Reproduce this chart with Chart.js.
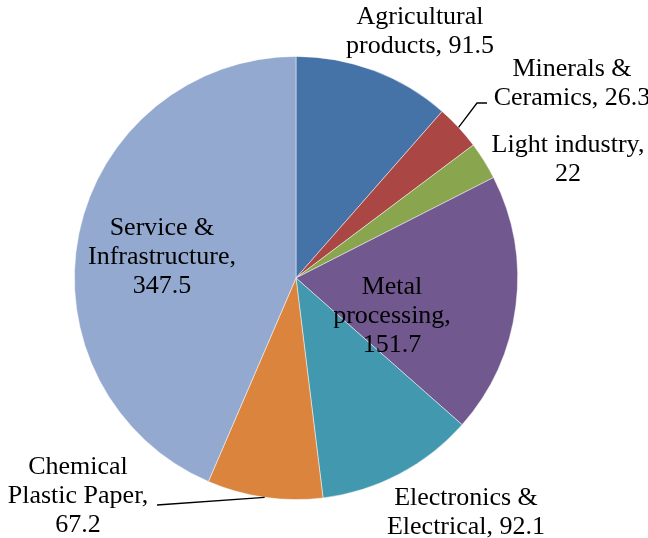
<!DOCTYPE html>
<html>
<head>
<meta charset="utf-8">
<script src="https://cdn.jsdelivr.net/npm/chart.js@4/dist/chart.umd.min.js"></script>
<style>
  html, body { margin: 0; padding: 0; background: #fff; }
  #wrap { width: 648px; height: 538px; }
</style>
</head>
<body>
<div id="wrap"><canvas id="pie" width="648" height="538"></canvas></div>
<script>
// sector data, clockwise from 12 o'clock
const categories = [
    ["Agricultural", "products"],
    ["Minerals &", "Ceramics"],
    ["Light industry"],
    ["Metal", "processing"],
    ["Electronics &", "Electrical"],
    ["Chemical", "Plastic Paper"],
    ["Service &", "Infrastructure"]
];
const values = [91.5, 26.3, 22, 151.7, 92.1, 67.2, 347.5];
const colors = ["#4572A7", "#AA4643", "#89A54E", "#71588F", "#4198AF", "#DB843D", "#93A9CF"];

// label placement relative to the pie center (px), and which ones get a leader line
const labelLines = [
    ["Agricultural", "products, 91.5"],
    ["Minerals &", "Ceramics, 26.3"],
    ["Light industry,", "22"],
    ["Metal", "processing,", "151.7"],
    ["Electronics &", "Electrical, 92.1"],
    ["Chemical", "Plastic Paper,", "67.2"],
    ["Service &", "Infrastructure,", "347.5"]
];
const labelPos = [
    {dx: 124, dy: -246},
    {dx: 276, dy: -194},
    {dx: 272, dy: -118},
    {dx: 96, dy: 38},
    {dx: 170, dy: 235},
    {dx: -218, dy: 218},
    {dx: -134, dy: -21}
];
const leader = [null, {bx: 181, by: -175, ex: 191}, null, null, null, {bx: -139, by: 227, ex: -139}, null];

const FONT = '26px "Liberation Serif", "Times New Roman", serif';
const LINE_H = 29;

const labelPlugin = {
    id: 'sliceLabels',
    afterDatasetsDraw(chart) {
        const ctx = chart.ctx;
        const arcs = chart.getDatasetMeta(0).data;
        ctx.save();
        arcs.forEach((arc, i) => {
            const p = arc.getProps(['x', 'y', 'startAngle', 'endAngle', 'outerRadius'], true);
            const mid = (p.startAngle + p.endAngle) / 2;
            // leader line from the slice edge
            const ld = leader[i];
            if (ld) {
                const sx = p.x + Math.cos(mid) * p.outerRadius;
                const sy = p.y + Math.sin(mid) * p.outerRadius;
                ctx.beginPath();
                ctx.strokeStyle = '#000';
                ctx.lineWidth = 1.3;
                ctx.moveTo(sx, sy);
                ctx.lineTo(p.x + ld.bx, p.y + ld.by);
                ctx.lineTo(p.x + ld.ex, p.y + ld.by);
                ctx.stroke();
            }
            const lines = labelLines[i];
            const pos = labelPos[i];
            ctx.font = FONT;
            ctx.fillStyle = '#000';
            ctx.textAlign = 'center';
            ctx.textBaseline = 'middle';
            const top = p.y + pos.dy - (lines.length - 1) * LINE_H / 2;
            lines.forEach((t, k) => {
                ctx.fillText(t, p.x + pos.dx, top + k * LINE_H);
            });
        });
        ctx.restore();
    }
};

new Chart(document.getElementById('pie'), {
    type: 'pie',
    data: {
        labels: categories,
        datasets: [{
            data: values,
            backgroundColor: colors,
            borderColor: 'rgba(255,255,255,0.6)',
            borderWidth: 0.8
        }]
    },
    options: {
        responsive: false,
        animation: false,
        layout: {padding: {left: 74, right: 130, top: 56, bottom: 38}},
        plugins: {
            legend: {display: false},
            tooltip: {enabled: false}
        }
    },
    plugins: [labelPlugin]
});
</script>
</body>
</html>
